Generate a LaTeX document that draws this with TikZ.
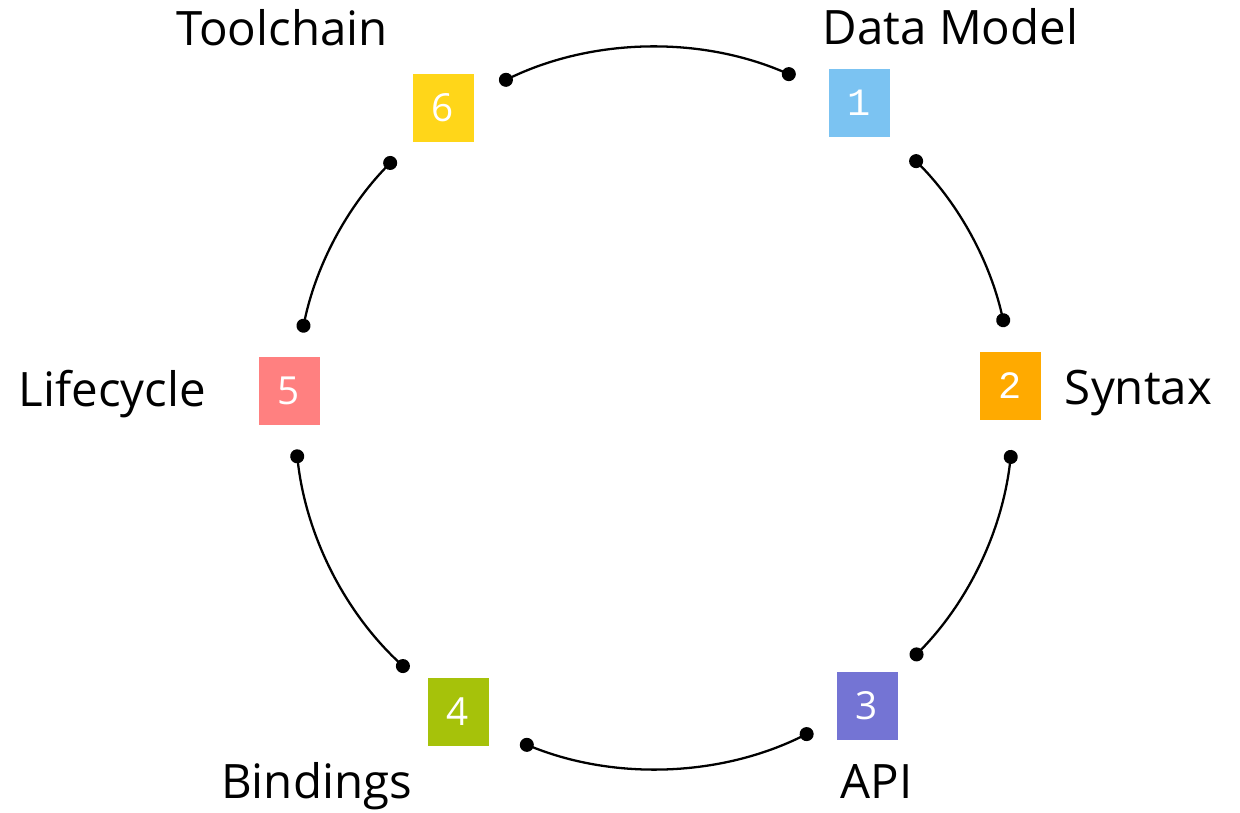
\documentclass[tikz,border=0pt]{standalone}
\usepackage{fontspec}
\setmainfont{Open Sans}
\newfontfamily\digitmono{Liberation Mono}
\usetikzlibrary{arrows.meta,calc}

\definecolor{dmblue}{HTML}{7BC3F2}
\definecolor{synorange}{HTML}{FFAA00}
\definecolor{apiviolet}{HTML}{7474D4}
\definecolor{bindgreen}{HTML}{A6C20A}
\definecolor{liferose}{HTML}{FF8080}
\definecolor{toolyellow}{HTML}{FFD619}

\tikzset{
  topic/.style={minimum width=1.22cm, minimum height=1.36cm, inner sep=0pt,
    text=white, font=\fontsize{22}{26}\selectfont},
  title/.style={anchor=base, font=\fontsize{27}{32}\selectfont},
  link/.style={black, line width=1.3pt,
    {Circle[length=0.28cm]}-{Circle[length=0.28cm]}},
}

\begin{document}
\begin{tikzpicture}
\useasboundingbox (0,0) rectangle (24.8,-16.26);
\coordinate (c) at (13.08,-8.16);
\node [topic, fill=dmblue] (one) at (17.18,-2.06) {\digitmono 1};
\node [topic, fill=synorange] (two) at (20.20,-7.72) {\digitmono 2};
\node [topic, fill=apiviolet] (three) at (17.34,-14.12) {3};
\node [topic, fill=bindgreen] (four) at (9.16,-14.24) {4};
\node [topic, fill=liferose] (five) at (5.78,-7.82) {5};
\node [topic, fill=toolyellow] (six) at (8.86,-2.16) {6};
\node [title] (dm) at (19.01,-0.90) {Data Model};
\node [title] (syn) at (22.77,-8.08) {Syntax};
\node [title] (api) at (17.53,-15.96) {API};
\node [title] (bind) at (6.33,-15.96) {Bindings};
\node [title] (life) at (2.25,-8.12) {Lifecycle};
\node [title] (tool) at (5.64,-0.92) {Toolchain};
% ends of the arcs
\coordinate (s61) at ($(c)+(115.4:7.2)$);
\coordinate (e61) at ($(c)+(66.9:7.2)$);
\coordinate (s12) at ($(c)+(44.4:7.2)$);
\coordinate (e12) at ($(c)+(13.0:7.2)$);
\coordinate (s23) at ($(c)+(-6.7:7.2)$);
\coordinate (e23) at ($(c)+(-44.3:7.2)$);
\coordinate (s34) at ($(c)+(-63.8:7.2)$);
\coordinate (e34) at ($(c)+(-111.8:7.2)$);
\coordinate (s45) at ($(c)+(-133.1:7.2)$);
\coordinate (e45) at ($(c)+(-173.4:7.2)$);
\coordinate (s56) at ($(c)+(167.9:7.2)$);
\coordinate (e56) at ($(c)+(136.0:7.2)$);
\draw [link] (s61) to[bend left=24.25, looseness=0.9] (e61);
\draw [link] (s12) to[bend left=15.7, looseness=0.9] (e12);
\draw [link] (s23) to[bend left=18.8, looseness=0.9] (e23);
\draw [link] (s34) to[bend left=24, looseness=0.9] (e34);
\draw [link] (s45) to[bend left=20.15, looseness=0.9] (e45);
\draw [link] (s56) to[bend left=15.95, looseness=0.9] (e56);
\end{tikzpicture}
\end{document}
